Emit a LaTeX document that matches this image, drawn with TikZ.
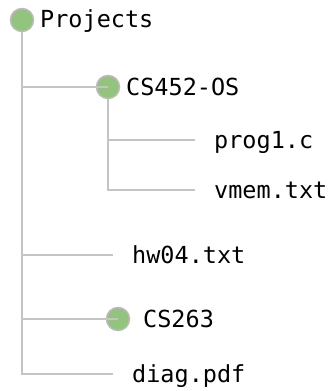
\documentclass[tikz,border=0pt]{standalone}
\usepackage{fontspec}
\setmonofont{DejaVu Sans Mono}
\definecolor{leaf}{HTML}{93C47D}
\definecolor{rim}{HTML}{BBBBBB}
\definecolor{wire}{HTML}{C4C4C4}
\tikzset{
  folder/.style={circle, fill=leaf, draw=rim, line width=1.5pt, minimum size=23pt, inner sep=0pt},
  label/.style={anchor=mid west, inner sep=0pt, font=\fontsize{23.5}{26}\selectfont\ttfamily, yshift=-6pt},
  wireline/.style={draw=wire, line width=2pt}
}
\begin{document}
\begin{tikzpicture}[x=1pt,y=-1pt]
\useasboundingbox (0,0) rectangle (333,391);
% trunk lines
\coordinate (rootc) at (22,20);
\coordinate (cs452c) at (108,87);
\coordinate (cs263c) at (118,319);
\coordinate (e1) at (195,140);
\coordinate (e2) at (195,190);
\coordinate (e3) at (113,255);
\coordinate (e4) at (113,374);
\draw[wireline] (rootc) |- (e4);
\draw[wireline] (cs452c) |- (e2);
% circles
\node[folder] (root) at (rootc) {};
\node[folder] (cs452) at (cs452c) {};
\node[folder] (cs263) at (cs263c) {};
% arms
\draw[wireline] (rootc |- cs452c) -- (cs452.center);
\draw[wireline] (rootc |- cs263c) -- (cs263.center);
\draw[wireline] (cs452c |- e1) -- (e1);
\draw[wireline] (rootc |- e3) -- (e3);
% labels
\node[label] (tp) at (40,19) {Projects};
\node[label] (t1) at (126,87) {CS452-OS};
\node[label] (t2) at (214,140) {prog1.c};
\node[label] (t3) at (214,190) {vmem.txt};
\node[label] (t4) at (132,255) {hw04.txt};
\node[label] (t5) at (143,319) {CS263};
\node[label] (t6) at (132,374) {diag.pdf};
\end{tikzpicture}
\end{document}
